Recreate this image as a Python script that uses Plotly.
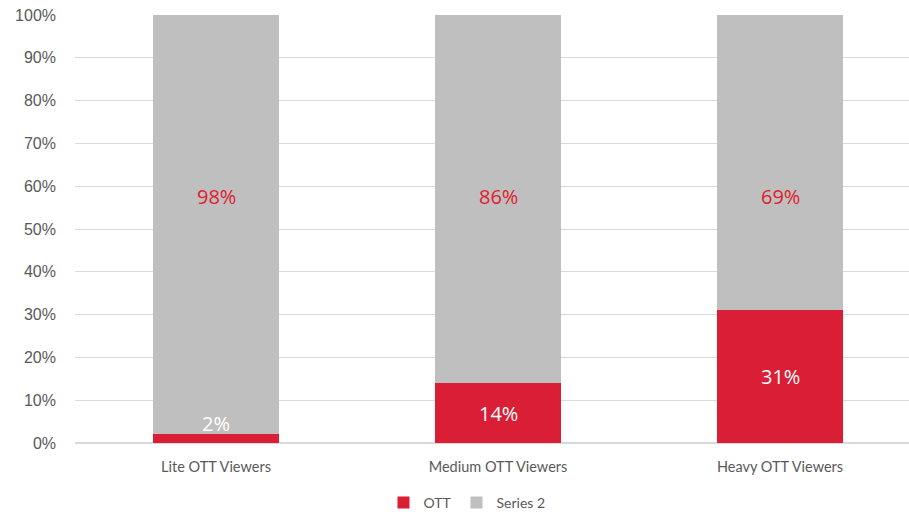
import plotly.graph_objects as go

categories = ["Lite OTT Viewers", "Medium OTT Viewers", "Heavy OTT Viewers"]
ott = [2, 14, 31]
series2 = [98, 86, 69]
y_ticks = [0, 10, 20, 30, 40, 50, 60, 70, 80, 90, 100]

RED = "#D91E36"
GRAY = "#BFBFBF"

fig = go.Figure()
fig.add_trace(go.Bar(x=categories, y=ott, name="OTT", marker=dict(color=RED, line=dict(width=0)),
                     width=0.447, hoverinfo="skip"))
fig.add_trace(go.Bar(x=categories, y=series2, name="Series 2", marker=dict(color=GRAY, line=dict(width=0)),
                     width=0.447, hoverinfo="skip"))

for c, v in zip(categories, ott):
    fig.add_annotation(x=c, y=max(v / 2, 4.5), text=f"{v}%", showarrow=False,
                       font=dict(family="Open Sans, Lato, sans-serif", size=20, color="white"))
for c, v in zip(categories, series2):
    fig.add_annotation(x=c, y=57.5, text=f"{v}%", showarrow=False,
                       font=dict(family="Open Sans, Lato, sans-serif", size=20, color="#E0202E"))

fig.update_layout(
    barmode="stack",
    width=909, height=515,
    margin=dict(l=75, r=0, t=15, b=72, autoexpand=False),
    paper_bgcolor="white", plot_bgcolor="white",
    showlegend=True,
    legend=dict(orientation="h", x=0.47, xanchor="center", xref="paper",
                y=12 / 515, yanchor="middle", yref="container",
                font=dict(family="Lato, Open Sans, sans-serif", size=14, color="#595959"),
                itemwidth=30, traceorder="normal"),
    xaxis=dict(range=[-0.5, -0.5 + 834 / 282], showgrid=False, showline=False, zeroline=False,
               tickfont=dict(family="Lato, Open Sans, sans-serif", size=14.5, color="#595959"),
               ticks="", ticklabelstandoff=13),
    yaxis=dict(range=[0, 100], tickvals=y_ticks, ticktext=[f"{t}%" for t in y_ticks],
               showgrid=True, gridcolor="#D9D9D9", gridwidth=1, zeroline=True, zerolinecolor="#D9D9D9",
               showline=False, ticks="", ticklabelstandoff=18,
               tickfont=dict(family="Liberation Sans, Arial, sans-serif", size=16, color="#595959")),
    bargap=0.553,
)

fig.write_html("out.html")
